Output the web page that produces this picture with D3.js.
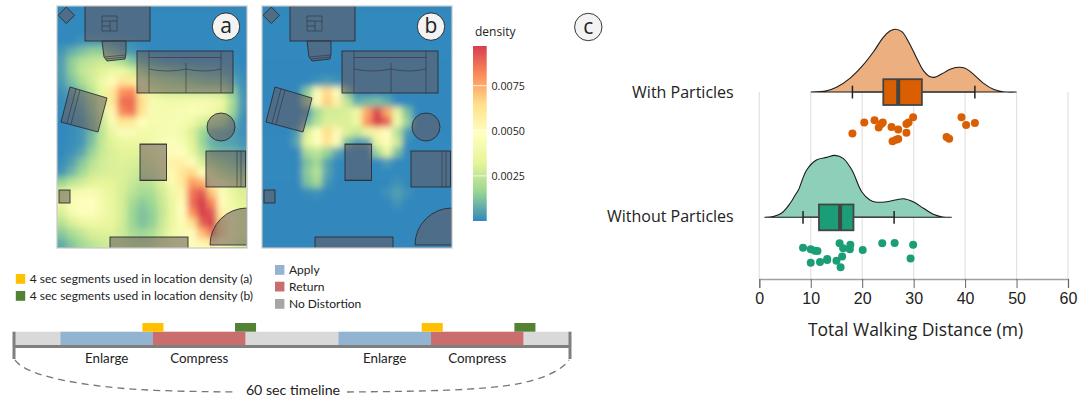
<!DOCTYPE html>
<html>
<head>
<meta charset="utf-8">
<script src="https://cdn.jsdelivr.net/npm/d3@7"></script>
<style>
  html, body { margin: 0; padding: 0; background: #fff; }
  text { font-family: "Open Sans", sans-serif; fill: #222; }
  .lato text, text.lato { font-family: Lato, sans-serif; }
</style>
</head>
<body>
<div id="chart"></div>
<script>
// location density, in units of 0.001, 10px cells
const densityA = [
  [0,0,0,0,0,0,0,0,0,0,0,0,0,0,0,0,0,0,0],
  [0,0,0,0,0,0,0,0,0,0,0,0,0,0,0,0,0,0,0],
  [0,0,0,0,0,0,0,0,0,0,0,0,0,0,0,0,0,0,0],
  [0,0,.2,.3,.3,.2,.1,.1,0,0,0,0,0,0,0,0,0,0,0],
  [.3,.8,1.2,1.5,1.5,1,.5,.3,.1,0,0,0,0,0,0,0,0,0,0],
  [.5,1.5,2.2,2.5,2.7,2.5,2,1.3,.8,.5,.3,.2,.1,.1,.1,.1,.1,.1,0],
  [.5,1.5,2.5,2.8,3.2,3.8,3.8,3,2,1.5,1.2,1,.9,.8,.7,.6,.5,.3,.1],
  [.4,1.2,2,2.8,3.8,5,6.2,6,3.8,2.5,2.2,2,1.8,1.5,1.3,1.2,1.2,.7,.2],
  [.2,.6,1.3,2.3,3.6,6,8,8.2,6,3.5,3,2.8,2.8,2.8,2.7,2.7,2.6,1.5,.3],
  [.1,.3,.8,1.8,3.2,6,8.7,8.8,6.4,4.3,4,4,4.1,4.2,4.2,4.1,3.7,2,.4],
  [.1,.2,.5,1.5,3,5.2,8.2,8.6,6.2,4.4,4.2,4.2,4.3,4.5,4.3,4,3.3,1.7,.3],
  [0,.1,.3,1.2,2.6,4.4,6.2,6,4.8,4.2,4.2,4.3,4.3,3.8,3,2.5,2,1,.2],
  [0,.1,.3,1,2.4,3.6,4.6,4.4,4,4,4.2,4.3,4,3,1.8,1,.8,.5,.2],
  [0,.1,.3,1.2,2.5,3.2,3.5,3.7,3.7,4,4.4,4.6,4.3,3.2,1.7,.8,.6,.5,.3],
  [0,.2,.6,1.6,2.6,3,3.2,3.2,3.2,3.6,4.2,5,4.8,3.5,2.2,1.2,1,.9,.6],
  [.1,.5,1.3,2.2,2.8,3,3.1,3,2.9,3.2,4,5.6,5.6,4.6,3,2,1.6,1.3,.9],
  [.3,1,1.8,2.6,2.9,3,3,2.8,2.6,2.8,3.6,5.2,6.2,6.6,5,3.3,2.4,2,1.6],
  [1.6,2.4,2.8,3.2,3.3,3.2,3,2.6,2.2,2.4,3.1,4.4,6,7.8,7.4,5.4,3.8,3,2.6],
  [3.2,4,4.4,4.4,3.9,3.4,2.9,2.3,1.9,2,2.8,3.8,5.4,8.6,9.2,7,4.6,3.6,3],
  [3.6,4.6,5,4.8,4.1,3.5,2.9,1.9,1.4,1.7,2.6,3.6,5,8.8,9.7,8.2,5,3.8,3.2],
  [3,4.2,4.7,4.6,4,3.5,2.9,1.7,1.2,1.5,2.5,3.5,4.8,8,9.7,9.2,5.6,4,3.4],
  [2.2,3,3.5,3.8,3.7,3.4,2.8,1.7,1.2,1.5,2.6,3.6,4.6,6.4,9,9.6,6.4,4.2,3.4],
  [1.4,2,2.5,3,3.1,3.1,2.7,2,1.7,2,2.8,3.8,4.4,5,7.2,8.6,6.6,4.2,3.2],
  [.8,1.4,1.9,2.4,2.7,2.8,2.7,2.4,2.2,2.5,3.1,3.8,4.2,4.6,5.4,6,5,3.8,3],
  [.6,1,1.6,2.1,2.5,2.7,2.7,2.6,2.5,2.8,3.2,3.8,4.2,4.6,4.8,4.8,4.2,3.4,2.8]
];
const densityB = [
  [0,0,0,0,0,0,0,0,0,0,0,0,0,0,0,0,0,0,0],
  [0,0,0,0,0,0,0,0,0,0,0,0,0,0,0,0,0,0,0],
  [0,0,0,0,0,0,0,0,0,0,0,0,0,0,0,0,0,0,0],
  [0,0,0,0,0,0,0,0,0,0,0,0,0,0,0,0,0,0,0],
  [0,0,0,0,0,0,0,0,0,0,0,0,0,0,0,0,0,0,0],
  [0,0,0,0,0,0,0,0,0,0,0,0,0,0,0,0,0,0,0],
  [0,0,0,0,0,0,0,0,0,0,0,0,0,0,0,0,0,0,0],
  [0,0,0,0,0,.2,.4,.2,0,0,0,0,0,0,0,0,0,0,0],
  [0,0,0,0,1.4,4.6,6.6,5,1.2,0,0,0,0,0,0,0,0,0,0],
  [0,0,0,0,1.8,5,6.8,5.6,2.4,.8,1,1.2,.8,0,0,0,0,0,0],
  [0,0,0,0,.3,1.8,2.8,2.8,3,3.8,7.6,9.6,7.6,3.4,1.2,0,0,0,0],
  [0,0,0,0,1,2.2,3,3,3,3.8,8,10,9,4,1.6,0,0,0,0],
  [0,0,0,.4,3,4.8,6.5,5.2,3,2.5,3.6,5.5,4.8,2.2,.4,0,0,0,0],
  [0,0,0,.6,3.4,4.8,6.2,4.6,1.2,.4,.6,3.6,5,2.8,.1,0,0,0,0],
  [0,0,0,0,2,2.4,1.6,.6,0,0,0,1.8,3.5,1.2,0,0,0,0,0],
  [0,0,0,0,1.2,1.8,.6,0,0,0,0,0,.4,0,0,0,0,0,0],
  [0,0,0,0,1.4,2.2,.6,0,0,0,0,0,0,0,0,0,0,0,0],
  [0,0,0,0,1.2,1.8,.3,0,0,0,0,0,0,.2,0,0,0,0,0],
  [0,0,0,0,.1,.2,0,0,0,0,0,0,.2,.5,.2,0,0,0,0],
  [0,0,0,0,0,0,0,0,0,0,0,0,0,.3,0,0,0,0,0],
  [0,0,0,0,0,0,0,0,0,0,0,0,0,0,0,0,0,0,0],
  [0,0,0,0,0,0,0,0,0,0,0,0,0,0,0,0,0,0,0],
  [0,0,0,0,0,0,0,0,0,0,0,0,0,0,0,0,0,0,0],
  [0,0,0,0,0,0,0,0,0,0,0,0,0,0,0,0,0,0,0],
  [0,0,0,0,0,0,0,0,0,0,0,0,0,0,0,0,0,0,0]
];
const densityTicks = [0.0025, 0.005, 0.0075];
const densityMax = 0.0097;
const spectral = ["#3288bd", "#99d594", "#e6f598", "#ffffbf", "#fee08b", "#fc8d59", "#d53e4f"];

// raincloud: walking distance (m)
const groups = ["With Particles", "Without Particles"];
const xTicks = [0, 10, 20, 30, 40, 50, 60];
const kdeWithX = [10,13.1,15,17.6,19.9,22.2,24.1,25.4,26.4,27.7,29,30.6,31.9,32.9,34,35.4,37.1,38.7,40,41.6,43.6,45.5,47.4,50];
const kdeWithY = [0,.001,.0037,.0109,.0202,.0321,.0436,.0486,.05,.0481,.0401,.0269,.017,.0128,.0117,.0143,.0181,.0197,.0189,.0143,.0069,.0022,.0002,0];
const kdeWithoutX = [1,2.7,4.3,6,6.9,7.6,9.2,11.1,13.1,14.7,16.3,18,19.9,21.5,22.5,24.8,28,29.9,31.9,33.8,35.4,37.4];
const kdeWithoutY = [0,.0006,.0032,.0112,.0172,.0218,.0377,.0457,.0478,.0494,.047,.0377,.0204,.0138,.0122,.0124,.0148,.0124,.0072,.0024,.0005,0];
const boxWith = { lo: 18.1, q1: 24.1, med: 27, q3: 31.6, hi: 41.9 };
const boxWithout = { lo: 8.5, q1: 11.6, med: 15.7, q3: 18.3, hi: 26.2 };
const pointsWith = [18.1,20.4,22.4,23.2,24,23.7,25.7,27,28.6,28.6,29,29.9,25.9,26.6,27,36.4,36.9,39.3,40.2,41.9];
const jitterWith = [.68,.22,.125,.42,.22,.28,.4,.51,.64,.28,.22,0,1,.94,.9,.82,.89,0,.32,.24];
const pointsWithout = [8.5,10,10.8,11.3,10,11.8,13.2,13.2,15,16.1,15.6,16.3,17.7,17.6,15.8,20.1,23.9,26.3,29.9,29.4];
const jitterWithout = [.2,.26,.32,.33,.81,.78,.66,.7,.73,.56,.01,.22,.07,.26,1,.29,.01,0,.07,.64];

// timeline, seconds
const phaseStarts = [0, 5, 15, 25, 35, 45, 55];
const phaseEnds = [5, 15, 25, 35, 45, 55, 60];
const phaseKinds = ["none", "apply", "return", "none", "apply", "return", "none"];
const phaseLabels = ["", "Enlarge", "Compress", "", "Enlarge", "Compress", ""];
const segmentA = [13.86, 44];
const segmentB = [23.85, 54];
const segmentLength = 2.27;

const svg = d3.select("#chart").append("svg")
    .attr("width", 1081)
    .attr("height", 398)
    .style("display", "block");

const defs = svg.append("defs");
defs.append("filter").attr("id", "soft")
    .attr("x", "-20%").attr("y", "-20%").attr("width", "140%").attr("height", "140%")
  .append("feGaussianBlur").attr("stdDeviation", 3);
defs.append("filter").attr("id", "soft2")
  .append("feGaussianBlur").attr("stdDeviation", 0.35);

const densityColor = d3.scaleLinear()
    .domain(d3.range(7).map(i => i / 6 * densityMax))
    .range(spectral)
    .clamp(true);

// ---- heat maps ----
const panelW = 190, panelH = 242;

function drawFurniture(g) {
  const solid = g.append("g")
      .attr("fill", "rgb(100,85,92)").attr("fill-opacity", 0.55)
      .attr("stroke", "#2b2f36").attr("stroke-width", 0.9)
      .attr("filter", "url(#soft2)");
  const thin = g.append("g")
      .attr("fill", "none").attr("stroke", "#2b2f36").attr("stroke-width", 0.7).attr("stroke-opacity", .8);
  const rect = (x, y, w, h) => solid.append("rect").attr("x", x).attr("y", y).attr("width", w).attr("height", h);
  const poly = pts => solid.append("polygon").attr("points", pts.join(" "));
  const line = d => thin.append("path").attr("d", d);

  poly([[9.3,1],[17.5,9.3],[9.3,17.5],[1,9.3]]);   // plant stand
  rect(28, 0, 65, 35);                             // desk
  line("M45,10H60V25H45ZM45,15H60M45,20H53V25M53,15V20");
  poly([[45,35],[69,35],[69,47],[68,53],[50,55],[47,51]]); // desk chair
  line("M48,51L68,49M49,53L68,51");
  rect(80, 45, 96, 42);                            // sofa
  line("M92,45V87M129,57V87M164,45V87M92,51.5H164M92,63Q110,67 129,63Q147,67 164,63");
  poly([[13,81],[50,92],[41,126],[4,116]]);        // armchair, rotated
  line("M19,83L10,117M23,84L14,118");
  solid.append("circle").attr("cx", 164).attr("cy", 121).attr("r", 14);
  rect(83, 138, 26.5, 36.5);                       // ottoman
  line("M83,138.5H109.5M83,174H109.5");
  rect(149, 145, 39.5, 36);                        // right armchair
  line("M180,145V181M184,145V181");
  rect(2, 184, 11, 13);                            // side table
  solid.append("path").attr("d", "M190,202A37,37 0 0 0 153,239H190Z"); // rug corner
  line("M153,242H190");
  rect(53, 231, 78, 14);                           // tv stand
}

function drawPanel(x0, matrix, id, label) {
  const cols = matrix[0].length, rows = matrix.length;
  const xCell = d3.scaleLinear().domain([0, cols]).range([0, panelW]);
  const yCell = d3.scaleLinear().domain([0, rows - 1]).range([0, panelH]);
  const g = svg.append("g").attr("transform", `translate(${x0},6)`);

  defs.append("clipPath").attr("id", id)
    .append("rect").attr("width", panelW).attr("height", panelH);

  const clip = g.append("g").attr("clip-path", `url(#${id})`);
  const heat = clip.append("g").attr("filter", "url(#soft)");
  const cells = matrix.flatMap((row, r) => row.map((v, c) => ({ r, c, v })));
  heat.selectAll("rect").data(cells).join("rect")
      // outer cells run past the frame so the blur does not fade at the edge
      .attr("x", d => xCell(d.c) - (d.c === 0 ? 20 : 0))
      .attr("y", d => yCell(d.r) - (d.r === 0 ? 20 : 0))
      .attr("width", d => xCell(1) + 0.5 + (d.c === 0 || d.c === cols - 1 ? 20 : 0))
      .attr("height", d => yCell(1) + 0.5 + (d.r === 0 || d.r === rows - 1 ? 20 : 0))
      .attr("fill", d => densityColor(d.v / 1000));
  drawFurniture(clip);

  g.append("rect").attr("width", panelW).attr("height", panelH)
      .attr("fill", "none").attr("stroke", "#c8c8c8").attr("stroke-width", 1.2);

  badge(x0 + 169, 26.6, label);
}

function badge(x, y, label) {
  svg.append("circle").attr("cx", x).attr("cy", y).attr("r", 13.7)
      .attr("fill", "#f3f3f3").attr("stroke", "#222").attr("stroke-width", 0.9);
  svg.append("text").attr("x", x).attr("y", y + 6.5)
      .attr("text-anchor", "middle").attr("font-size", 21)
      .text(label);
}

drawPanel(57, densityA, "clipA", "a");
drawPanel(262, densityB, "clipB", "b");

// density legend
const legendY = d3.scaleLinear().domain([0, densityMax]).range([221, 46]);
const grad = defs.append("linearGradient").attr("id", "densityGrad")
    .attr("x1", 0).attr("x2", 0).attr("y1", 1).attr("y2", 0);
spectral.forEach((c, i) => grad.append("stop").attr("offset", i / 6).attr("stop-color", c));
svg.append("rect").attr("x", 473).attr("y", legendY(densityMax))
    .attr("width", 13.7).attr("height", legendY(0) - legendY(densityMax))
    .attr("fill", "url(#densityGrad)");
svg.selectAll(".legtick").data(densityTicks).join("line")
    .attr("class", "legtick")
    .attr("x1", 473).attr("x2", 486.7)
    .attr("y1", d => legendY(d)).attr("y2", d => legendY(d))
    .attr("stroke", "#fff").attr("stroke-width", 0.8);
svg.selectAll(".leglabel").data(densityTicks).join("text")
    .attr("class", "leglabel")
    .attr("x", 491.5).attr("y", d => legendY(d) + 4)
    .attr("font-size", 10.7)
    .text(d => d.toFixed(4));
svg.append("text").attr("x", 475).attr("y", 36).attr("font-size", 12).text("density");

// ---- raincloud ----
badge(588.3, 27, "c");

const x = d3.scaleLinear().domain([0, 60]).range([759.3, 1068]);
const kdeH = d3.scaleLinear().domain([0, 0.05]).range([0, 62.7]);

svg.append("g").selectAll("line").data(xTicks).join("line")
    .attr("x1", d => x(d)).attr("x2", d => x(d))
    .attr("y1", 92).attr("y2", 279)
    .attr("stroke", "#e2e2e2").attr("stroke-width", 1.2);

function drawCloud(base, kx, ky, box, pts, jit, jitRange, fill, color) {
  const rows = kx.map((d, i) => [d, ky[i]]);
  const area = d3.area().x(d => x(d[0])).y0(base).y1(d => base - kdeH(d[1])).curve(d3.curveCatmullRom);
  svg.append("path").datum(rows).attr("d", area)
      .attr("fill", fill).attr("stroke", "#1a1a1a").attr("stroke-width", 1.1);

  const dark = "#444";
  svg.append("line").attr("x1", x(box.lo)).attr("x2", x(box.hi)).attr("y1", base).attr("y2", base)
      .attr("stroke", dark).attr("stroke-width", 1.6);
  [box.lo, box.hi].forEach(v => {
    svg.append("line").attr("x1", x(v)).attr("x2", x(v)).attr("y1", base - 6.3).attr("y2", base + 6.5)
        .attr("stroke", "#222").attr("stroke-width", 1.5);
  });
  svg.append("rect").attr("x", x(box.q1)).attr("y", base - 12.8)
      .attr("width", x(box.q3) - x(box.q1)).attr("height", 25.8)
      .attr("fill", color).attr("stroke", dark).attr("stroke-width", 1.8);
  svg.append("line").attr("x1", x(box.med)).attr("x2", x(box.med))
      .attr("y1", base - 12.8).attr("y2", base + 13)
      .attr("stroke", dark).attr("stroke-width", 4);

  const jy = d3.scaleLinear().domain([0, 1]).range(jitRange);
  svg.append("g").selectAll("circle").data(pts).join("circle")
      .attr("cx", d => x(d)).attr("cy", (d, i) => jy(jit[i])).attr("r", 4)
      .attr("fill", color);
}

drawCloud(92, kdeWithX, kdeWithY, boxWith, pointsWith, jitterWith, [117.3, 141.3], "#ecaf80", "#d95f02");
drawCloud(217.3, kdeWithoutX, kdeWithoutY, boxWithout, pointsWithout, jitterWithout, [243, 267.3], "#8dcfb9", "#1b9e77");

svg.selectAll(".grouplabel").data(groups).join("text")
    .attr("class", "grouplabel")
    .attr("x", 733.7).attr("y", (d, i) => i ? 221.5 : 97.5)
    .attr("text-anchor", "end").attr("font-size", 16)
    .text(d => d);

const axis = svg.append("g").attr("transform", "translate(0,279)")
    .call(d3.axisBottom(x).tickValues(xTicks).tickSize(9).tickSizeOuter(9).tickPadding(5).tickFormat(d3.format("d")));
axis.select(".domain").attr("stroke", "#a0a0a0").attr("stroke-width", 1.4);
axis.selectAll(".tick line").attr("stroke", "#666").attr("stroke-width", 1);
axis.selectAll(".tick text")
    .style("font-family", "'Liberation Sans', Arial, sans-serif")
    .attr("font-size", 16).attr("fill", "#222");

svg.append("text").attr("x", 915.5).attr("y", 336)
    .attr("text-anchor", "middle").attr("font-size", 17.5)
    .text("Total Walking Distance (m)");

// ---- timeline ----
const kindColor = { none: "#d9d9d9", apply: "#92b4d0", return: "#c96d6d" };
const t = d3.scaleLinear().domain([0, 60]).range([14, 570]);
const barTop = 331.7, barBottom = 345;

const phases = phaseStarts.map((s, i) => ({ s, e: phaseEnds[i], kind: phaseKinds[i], label: phaseLabels[i] }));
svg.append("g").selectAll("rect").data(phases).join("rect")
    .attr("x", d => t(d.s)).attr("y", barTop)
    .attr("width", d => t(d.e) - t(d.s)).attr("height", barBottom - barTop)
    .attr("fill", d => kindColor[d.kind]);
svg.append("g").attr("class", "lato").selectAll("text").data(phases.filter(d => d.label)).join("text")
    .attr("x", d => t((d.s + d.e) / 2)).attr("y", 363)
    .attr("text-anchor", "middle").attr("font-size", 13.4)
    .text(d => d.label);

function segments(starts, color) {
  svg.append("g").selectAll("rect").data(starts).join("rect")
      .attr("x", d => t(d)).attr("y", 323)
      .attr("width", d => t(d + segmentLength) - t(d)).attr("height", 8.7)
      .attr("fill", color);
}
segments(segmentA, "#ffc000");
segments(segmentB, "#548235");

// bracket under the bar
svg.append("path")
    .attr("d", `M${t(0)},${barTop}V359M${t(60)},${barTop}V359M${t(0)},346.5H${t(60)}`)
    .attr("fill", "none").attr("stroke", "#7f7f7f").attr("stroke-width", 3);

const braceLine = d3.line().curve(d3.curveBasis);
const dashed = pts => svg.append("path").attr("d", braceLine(pts))
    .attr("fill", "none").attr("stroke", "#777").attr("stroke-width", 1.3).attr("stroke-dasharray", "7 5");
dashed([[15,360],[22,368],[49,378],[94,386],[150,391],[237,392]]);
dashed([[347,392],[452,391],[527,385],[562,369],[569,360]]);
svg.append("text").attr("class", "lato").attr("x", 293).attr("y", 395)
    .attr("text-anchor", "middle").attr("font-size", 14.2).text("60 sec timeline");

// legends
const legendRows = [
  { x: 15.8, y: 274, c: "#ffc000", label: "4 sec segments used in location density (a)" },
  { x: 15.8, y: 291, c: "#548235", label: "4 sec segments used in location density (b)" },
  { x: 275, y: 265, c: kindColor.apply, label: "Apply" },
  { x: 275, y: 281.7, c: kindColor.return, label: "Return" },
  { x: 275, y: 299, c: "#a6a6a6", label: "No Distortion" }
];
const lg = svg.append("g").attr("class", "lato").selectAll("g").data(legendRows).join("g");
lg.append("rect").attr("x", d => d.x).attr("y", d => d.y)
    .attr("width", 9.4).attr("height", 9.8).attr("fill", d => d.c);
lg.append("text").attr("x", d => d.x + 14).attr("y", d => d.y + 9)
    .attr("font-size", 12).text(d => d.label);
</script>
</body>
</html>
